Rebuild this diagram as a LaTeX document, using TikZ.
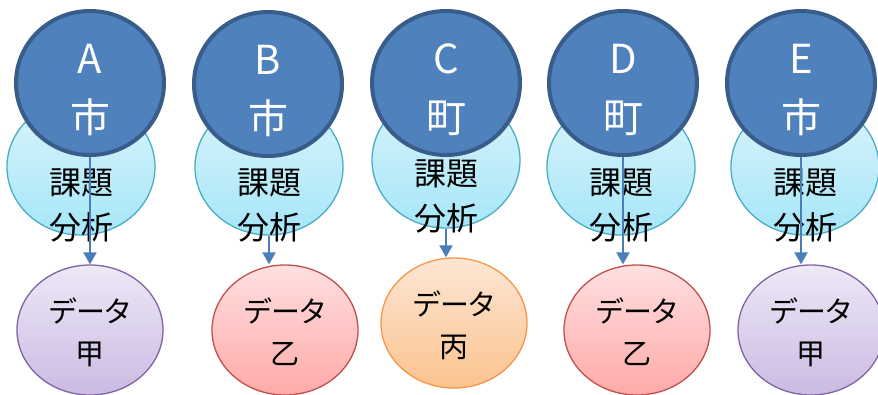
\documentclass[tikz,border=0pt]{standalone}
\usepackage{fontspec}
\setmainfont{Noto Sans CJK JP}
\newfontfamily\jpprop[RawFeature=+palt]{Noto Sans CJK JP}
\usetikzlibrary{arrows.meta,shapes.geometric,calc}
\definecolor{cityfill}{HTML}{4F81BD}
\definecolor{cityline}{HTML}{385D8A}
\definecolor{issuetop}{HTML}{DAF4FB}
\definecolor{issuebot}{HTML}{A6E6F8}
\definecolor{issueline}{HTML}{4BACC6}
\definecolor{purtop}{HTML}{EEE8F6}
\definecolor{purbot}{HTML}{CBBAE3}
\definecolor{purline}{HTML}{8064A2}
\definecolor{redtop}{HTML}{FFE0E0}
\definecolor{redbot}{HTML}{FFA9A9}
\definecolor{redline}{HTML}{C0504D}
\definecolor{orgtop}{HTML}{FDE6D4}
\definecolor{orgbot}{HTML}{FBC38F}
\definecolor{orgline}{HTML}{F79646}
\definecolor{arrowc}{HTML}{4A7EBB}
\tikzset{
  city/.style={ellipse,draw=cityline,line width=4pt,fill=cityfill,minimum width=148pt,minimum height=144pt,inner sep=0pt},
  citytext/.style={text=white,align=center,font=\fontsize{40}{59}\selectfont},
  issue/.style={ellipse,draw=issueline,line width=1.3pt,top color=issuetop,bottom color=issuebot,minimum width=148pt,minimum height=136pt,inner sep=0pt},
  issuetext/.style={text=black,align=center,font=\fontsize{32}{45}\selectfont},
  datanode/.style={ellipse,line width=1.3pt,minimum width=146pt,minimum height=130pt,inner sep=0pt},
  datatext/.style={text=black,align=center,font=\jpprop\fontsize{29}{42}\selectfont},
  pur/.style={datanode,draw=purline,top color=purtop,bottom color=purbot},
  red/.style={datanode,draw=redline,top color=redtop,bottom color=redbot},
  org/.style={datanode,draw=orgline,top color=orgtop,bottom color=orgbot},
  arr/.style={draw=arrowc,line width=2pt,-{Triangle[width=13pt,length=12pt]}}
}
\begin{document}
\begin{tikzpicture}[x=1pt,y=-1pt]
\useasboundingbox[fill=white] (0,0) rectangle (878,394);
% issue ellipses
\node[issue] (kA) at (81,167) {};
\node[issue] (kB) at (269,167) {};
\node[issue] (kC) at (446,160) {};
\node[issue] (kD) at (621,167) {};
\node[issue] (kE) at (805,167) {};
\node[issuetext] (kAt) at (81,205) {課題\\分析};
\node[issuetext] (kBt) at (269,205) {課題\\分析};
\node[issuetext] (kCt) at (446,196) {課題\\分析};
\node[issuetext] (kDt) at (621,205) {課題\\分析};
\node[issuetext] (kEt) at (805,205) {課題\\分析};
% city circles
\node[city] (cA) at (90,83) {};
\node[city] (cB) at (268,84) {};
\node[city] (cC) at (446,83) {};
\node[city] (cD) at (623,83) {};
\node[city] (cE) at (801,83) {};
\node[citytext] (cAt) at (90,90) {A\\市};
\node[citytext] (cBt) at (268,91) {B\\市};
\node[citytext] (cCt) at (446,90) {C\\町};
\node[citytext] (cDt) at (623,90) {D\\町};
\node[citytext] (cEt) at (801,90) {E\\市};
% data circles
\node[pur] (dA) at (90,330) {};
\node[red] (dB) at (285,330) {};
\node[org] (dC) at (454,323) {};
\node[red] (dD) at (637,330) {};
\node[pur] (dE) at (811,330) {};
\node[datatext] (dAt) at (90,332) {データ\\甲};
\node[datatext] (dBt) at (285,332) {データ\\乙};
\node[datatext] (dCt) at (454,325) {データ\\丙};
\node[datatext] (dDt) at (637,332) {データ\\乙};
\node[datatext] (dEt) at (811,332) {データ\\甲};
% arrows
\draw[arr] (cA.south) -- (dA.north);
\draw[arr] (kB.south) -- (kB.south |- dB.north);
\draw[arr] (kC.south) -- (kC.south |- dC.north);
\draw[arr] (cD.south) -- (cD.south |- dD.north);
\draw[arr] (cE.south) -- (cE.south |- dE.north);
\end{tikzpicture}
\end{document}
